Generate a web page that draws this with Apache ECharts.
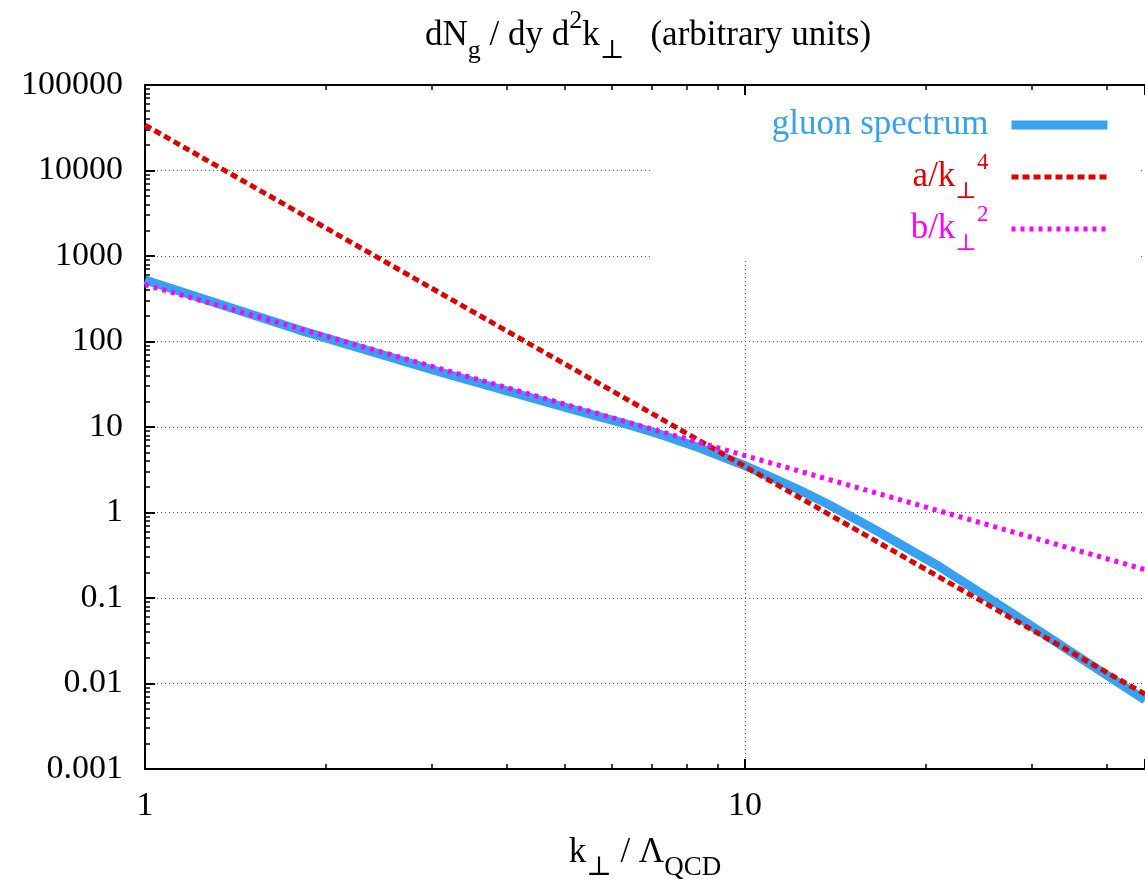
<!DOCTYPE html>
<html><head><meta charset="utf-8">
<script src="https://cdn.jsdelivr.net/npm/echarts@6/dist/echarts.min.js"></script>
<style>html,body{margin:0;padding:0;background:#fff}#c{width:1145px;height:882px}</style>
</head><body><div id="c"></div>
<script>
// ---- data ----
const xMajorTicks = [1, 10];
const xTickLabels = ['1', '10'];
const yMajorTicks = [0.001, 0.01, 0.1, 1, 10, 100, 1000, 10000, 100000];
const yTickLabels = ['0.001', '0.01', '0.1', '1', '10', '100', '1000', '10000', '100000'];
const kGluon = [1, 1.81, 3.1, 4.92, 6.19, 7.21, 8.41, 9.81, 11.0, 12.35, 13.8, 15.55, 16.8, 21.1, 27.65, 35.8, 46.4];
const gluonSpectrum = [524, 136, 44, 17.6, 11.35, 8.22, 5.69, 3.72, 2.63, 1.82, 1.23, 0.785, 0.58, 0.232, 0.0686, 0.021, 0.0064];
const kA = [1, 46.4];
const aOverK4 = [34000, 0.0075];
const kB = [1, 46.4];
const bOverK2 = [463, 0.215];
const seriesNames = ['gluon spectrum', 'a/k4', 'b/k2'];
const xMin = 1, xMax = 46.4, yMin = 0.001, yMax = 100000;

const FONT = "'Liberation Serif','DejaVu Serif','Times New Roman',serif";
const BLUE = '#37a0f0', RED = '#dd0000', MAG = '#ff00ff';

function zip(a, b) { return a.map((v, i) => [v, b[i]]); }
function nearestLabel(v, ticks, labels) {
  let best = 0, bd = Infinity;
  ticks.forEach((t, i) => { const d = Math.abs(Math.log10(v) - Math.log10(t)); if (d < bd) { bd = d; best = i; } });
  return labels[best];
}

function richSet(color, mainLH, subH, supH, size, subSize) {
  return {
    n: { fontFamily: FONT, fontSize: size, fontWeight: 'normal', lineHeight: mainLH, color: color },
    s: { fontFamily: FONT, fontSize: subSize, fontWeight: 'normal', lineHeight: subH, verticalAlign: 'bottom', color: color },
    p: { fontFamily: FONT, fontSize: subSize, fontWeight: 'normal', lineHeight: supH, verticalAlign: 'top', color: color }
  };
}
const legendRich = {};
[['g', BLUE], ['r', RED], ['m', MAG]].forEach(([k, c]) => {
  const r = richSet(c, 52, 24, 24, 35, 23);
  legendRich[k + 'n'] = r.n; legendRich[k + 's'] = r.s; legendRich[k + 'p'] = r.p;
});
const legendText = {
  'gluon spectrum': '{gn|gluon spectrum}',
  'a/k4': '{rn|a/k}{rs|⊥}{rp|4}',
  'b/k2': '{mn|b/k}{ms|⊥}{mp|2}'
};

const gridLine = { show: true, lineStyle: { color: '#555', width: 1, type: [1, 3] } };
const tickStyle = { show: true, inside: true, length: 10, lineStyle: { color: '#000', width: 2 } };
const minorStyle = { show: true, splitNumber: 9, length: 5, lineStyle: { color: '#000', width: 1.5 } };

function xAxisDef(pos, showLabel) {
  return {
    type: 'log', logBase: 10, gridIndex: 0, position: pos, min: xMin, max: xMax, splitNumber: 2,
    axisLine: { show: true, onZero: false, lineStyle: { color: '#000', width: 2 } },
    axisTick: tickStyle, minorTick: minorStyle, minorSplitLine: { show: false },
    axisLabel: showLabel ? { show: true, customValues: xMajorTicks, margin: 20, color: '#000',
      fontFamily: FONT, fontSize: 34, formatter: v => nearestLabel(v, xMajorTicks, xTickLabels) } : { show: false },
    splitLine: showLabel ? gridLine : { show: false }
  };
}

const xMain = xAxisDef('bottom', true);
xMain.name = '{n|k}{s|⊥}{n| / Λ}{s|QCD}';
xMain.nameLocation = 'middle';
xMain.nameGap = 56;
xMain.nameTextStyle = { rich: richSet('#000', 56, 26, 40, 35, 27) };

const yMain = {
  type: 'log', logBase: 10, gridIndex: 0, position: 'left', min: yMin, max: yMax, splitNumber: 8,
  axisLine: { show: true, onZero: false, lineStyle: { color: '#000', width: 2 } },
  axisTick: tickStyle, minorTick: minorStyle, minorSplitLine: { show: false },
  axisLabel: { show: true, customValues: yMajorTicks, margin: 22, color: '#000',
    fontFamily: FONT, fontSize: 34, formatter: v => nearestLabel(v, yMajorTicks, yTickLabels) },
  splitLine: gridLine
};

const chart = echarts.init(document.getElementById('c'), null, { renderer: 'canvas' });
chart.setOption({
  animation: false,
  backgroundColor: '#fff',
  title: {
    text: '{n|dN}{s|g}{n| / dy d}{p|2}{n|k}{s|⊥}{n|   (arbitrary units)}',
    left: 425, top: 8, padding: 0,
    textStyle: { fontWeight: 'normal', rich: richSet('#000', 56, 18, 40, 35, 26) }
  },
  legend: {
    data: [
      { name: seriesNames[0], lineStyle: { width: 9, color: BLUE, type: 'solid' } },
      { name: seriesNames[1], lineStyle: { width: 5, color: RED, type: [7, 4] } },
      { name: seriesNames[2], lineStyle: { width: 5, color: MAG, type: [4, 5] } }
    ],
    orient: 'vertical', align: 'right', right: 5, top: 96,
    padding: [3, 28, 3, 120], itemGap: 0, itemWidth: 96, itemHeight: 10,
    backgroundColor: '#fff', selectedMode: false,
    itemStyle: { opacity: 0 },
    formatter: name => legendText[name],
    textStyle: { padding: [0, 18, 0, 0], lineHeight: 52, height: 52, rich: legendRich }
  },
  grid: { left: 145, right: 0, top: 85, bottom: 113, containLabel: false, outerBoundsMode: 'none' },
  xAxis: [xMain, xAxisDef('top', false)],
  yAxis: [yMain],
  series: [
    { name: seriesNames[0], type: 'line', xAxisIndex: 0, yAxisIndex: 0, data: zip(kGluon, gluonSpectrum),
      symbol: 'none', smooth: false, lineStyle: { color: BLUE, width: 9, join: 'round' }, itemStyle: { color: BLUE } },
    { name: seriesNames[1], type: 'line', xAxisIndex: 0, yAxisIndex: 0, data: zip(kA, aOverK4),
      symbol: 'none', lineStyle: { color: RED, width: 5, type: [7, 4] }, itemStyle: { color: RED } },
    { name: seriesNames[2], type: 'line', xAxisIndex: 0, yAxisIndex: 0, data: zip(kB, bOverK2),
      symbol: 'none', lineStyle: { color: MAG, width: 5, type: [4, 5] }, itemStyle: { color: MAG } }
  ]
});
</script></body></html>
